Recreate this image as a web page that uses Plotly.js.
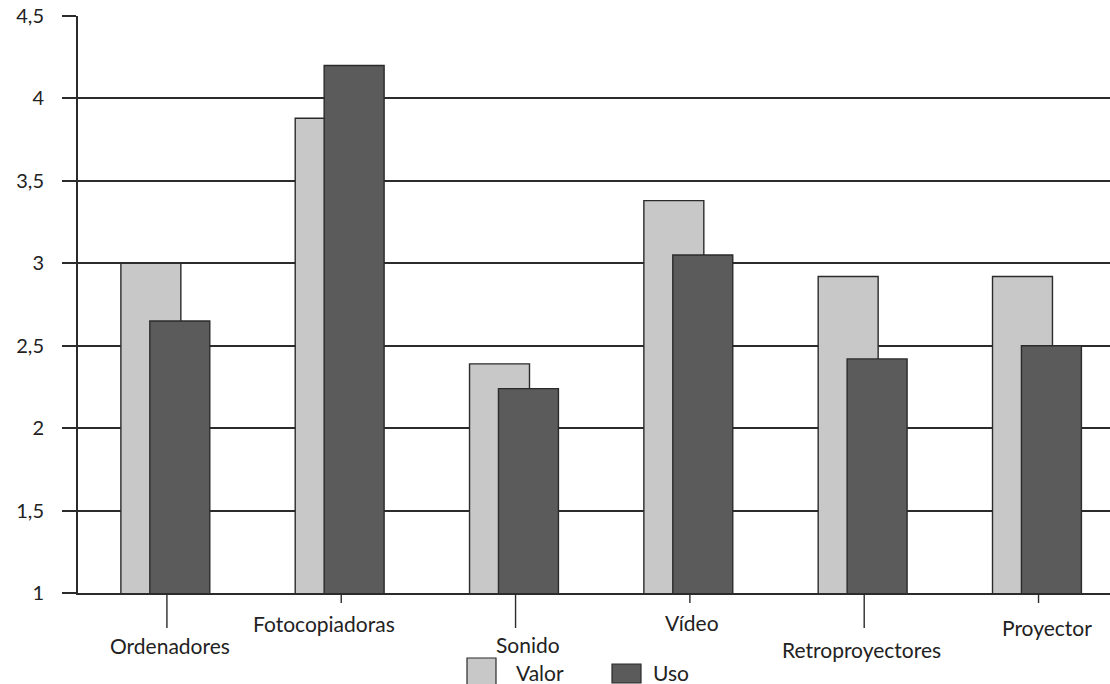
<!DOCTYPE html>
<html>
<head>
<meta charset="utf-8">
<script src="https://cdn.plot.ly/plotly-3.0.1.min.js"></script>
<style>html,body{margin:0;padding:0;background:#fff;}#chart{width:1110px;height:684px;}</style>
</head>
<body>
<div id="chart"></div>
<script>
// ---- data ----
const categories = ["Ordenadores", "Fotocopiadoras", "Sonido", "Vídeo", "Retroproyectores", "Proyector"];
const valor = [3.0, 3.88, 2.39, 3.38, 2.92, 2.92];
const uso = [2.65, 4.2, 2.24, 3.05, 2.42, 2.5];
const seriesNames = ["Valor", "Uso"];
const yTicks = [1, 1.5, 2, 2.5, 3, 3.5, 4, 4.5];

// ---- styles / layout helpers ----
const FONT = "Lato, 'Noto Sans', sans-serif";
const INK = "#2b2b2b";
const colValor = "#c8c8c8";
const colUso = "#5b5b5b";
const labelDx = [3, -17, 12, 2, -3, 8];     // horizontal shift of category labels (px)
const labelDy = [-52, -30, -51, -29, -56, -34]; // vertical shift below axis (px)
const leaderLen = [35, 10, 35, 10, 35, 10];  // leader tick length (px)

const W = 1110, H = 684, mL = 78, mR = 0, mT = 16, mB = 91;
const pw = W - mL - mR, ph = H - mT - mB;
const px = x => (x - mL) / pw;
const py = y => (H - mB - y) / ph;

const traces = [
  {type: "bar", name: seriesNames[0], x: categories.map((_, i) => i), y: valor,
   offset: -0.264, width: 0.344, base: 0,
   marker: {color: colValor, line: {color: INK, width: 1.4}}, hoverinfo: "y"},
  {type: "bar", name: seriesNames[1], x: categories.map((_, i) => i), y: uso,
   offset: -0.098, width: 0.344, base: 0,
   marker: {color: colUso, line: {color: INK, width: 1.4}}, hoverinfo: "y"}
];

const annotations = categories.map((c, i) => ({
  x: i, xref: "x", y: 0, yref: "paper", text: c, showarrow: false,
  xanchor: "center", yanchor: "middle", xshift: labelDx[i], yshift: labelDy[i],
  font: {family: FONT, size: 21, color: "#222"}
}));
// legend texts
annotations.push({x: px(514), y: py(672), xref: "paper", yref: "paper", text: seriesNames[0],
  showarrow: false, xanchor: "left", yanchor: "middle", font: {family: FONT, size: 21, color: "#222"}});
annotations.push({x: px(651), y: py(672), xref: "paper", yref: "paper", text: seriesNames[1],
  showarrow: false, xanchor: "left", yanchor: "middle", font: {family: FONT, size: 21, color: "#222"}});

const shapes = categories.map((c, i) => ({
  type: "line", xref: "x", yref: "paper", x0: i, x1: i, y0: 0, y1: -leaderLen[i] / ph,
  line: {color: INK, width: 1.4}
}));
shapes.push({type: "rect", xref: "paper", yref: "paper", x0: px(467), x1: px(496), y0: py(686), y1: py(658),
  fillcolor: colValor, line: {color: INK, width: 1.2}});
shapes.push({type: "rect", xref: "paper", yref: "paper", x0: px(612), x1: px(641), y0: py(683), y1: py(664),
  fillcolor: colUso, line: {color: INK, width: 1.2}});

const layout = {
  width: W, height: H,
  margin: {l: mL, r: mR, t: mT, b: mB, pad: 0},
  paper_bgcolor: "#fff", plot_bgcolor: "#fff",
  separators: ",.",
  barmode: "overlay",
  showlegend: false,
  font: {family: FONT, color: "#222"},
  xaxis: {
    range: [-0.51, 5.41], showticklabels: false, showgrid: false, zeroline: false,
    showline: true, linecolor: INK, linewidth: 2, ticks: "", fixedrange: true
  },
  yaxis: {
    range: [1, 4.5], tickvals: yTicks, showgrid: true, gridcolor: INK, gridwidth: 2,
    zeroline: false, showline: true, linecolor: INK, linewidth: 2,
    ticks: "outside", ticklen: 14, tickcolor: INK, tickwidth: 2,
    ticklabelstandoff: 14,
    tickfont: {family: FONT, size: 20, color: "#222"}, fixedrange: true
  },
  annotations: annotations,
  shapes: shapes
};

Plotly.newPlot("chart", traces, layout, {displayModeBar: false, staticPlot: true});
</script>
</body>
</html>
